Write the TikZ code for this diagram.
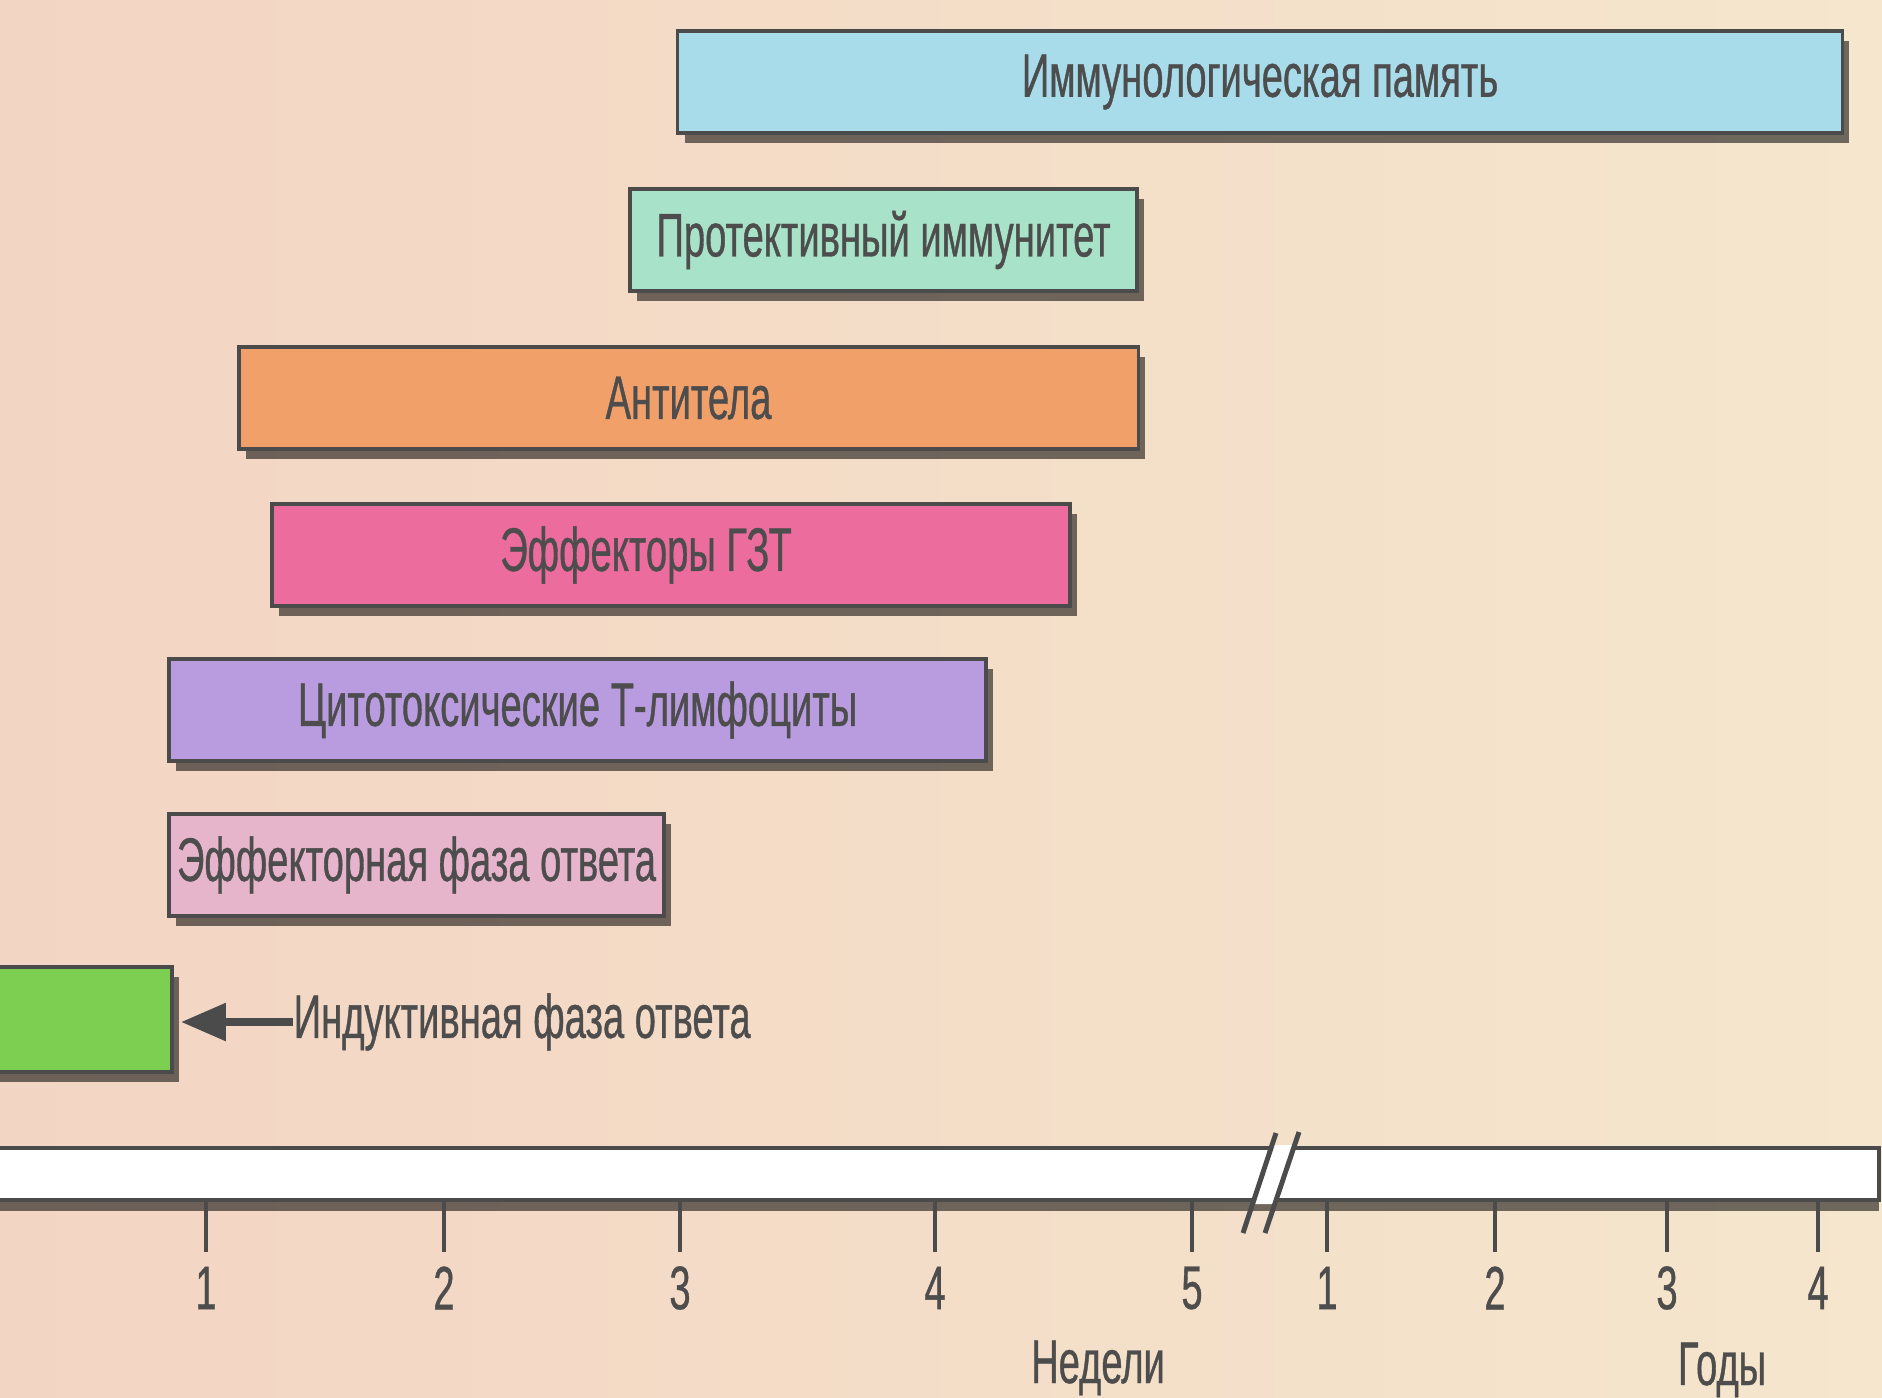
\documentclass[tikz,border=0pt]{standalone}
\usepackage{fontspec}
\setmainfont[FakeStretch=0.62,FakeBold=0.6]{Liberation Sans}
\usetikzlibrary{shadows,arrows.meta}

\definecolor{bgleft}{HTML}{F3D5C3}
\definecolor{bgright}{HTML}{F5E6CD}
\definecolor{edgegray}{HTML}{4B4B4B}
\definecolor{inkgray}{HTML}{4D4D4D}
\definecolor{memcol}{HTML}{A9DCEB}
\definecolor{protcol}{HTML}{A8E2C8}
\definecolor{abcol}{HTML}{F1A06A}
\definecolor{dthcol}{HTML}{EC6C9E}
\definecolor{ctlcol}{HTML}{B99BE0}
\definecolor{effcol}{HTML}{E7B5CB}
\definecolor{indcol}{HTML}{7DCF52}

\begin{document}
\begin{tikzpicture}[x=0.01cm,y=-0.01cm,
    every node/.style={font=\fontsize{17.5}{20}\selectfont,text=inkgray},
    phase/.style={draw=edgegray,line width=1pt,minimum height=1.02cm,inner sep=0pt,
      drop shadow={shadow xshift=2pt,shadow yshift=-2.8pt,fill=black,opacity=0.55}}]
  % background
  \shade[left color=bgleft,right color=bgright] (0,0) rectangle (1882,1397);
  \useasboundingbox (0,0) rectangle (1882,1397);
  % phases of the response
  \node[phase,fill=memcol,minimum width=11.64cm] (memory) at (1260,82) {Иммунологическая память};
  \node[phase,fill=protcol,minimum width=5.07cm] (protect) at (883.5,240) {Протективный иммунитет};
  \node[phase,fill=abcol,minimum width=8.99cm] (antibody) at (688.5,398) {Антитела};
  \node[phase,fill=dthcol,minimum width=7.98cm] (dth) at (671,555) {Эффекторы ГЗТ\hspace*{0.5cm}};
  \node[phase,fill=ctlcol,minimum width=8.17cm] (ctl) at (577.5,710) {Цитотоксические Т-лимфоциты};
  \node[phase,fill=effcol,minimum width=4.95cm] (effector) at (416.5,865) {Эффекторная фаза ответа};
  \node[phase,fill=indcol,minimum width=1.86cm,minimum height=1.05cm] (induct) at (79,1019.5) {};
  % inductive phase label
  \node[right,inner sep=0pt] (indlabel) at (293,1022) {Индуктивная фаза ответа};
  \draw[-{Triangle[length=0.45cm,width=0.36cm]},line width=2.4pt,edgegray,shorten >=0.07cm]
    (indlabel.west) -- (induct.east |- indlabel.west);
  % time axis
  \filldraw[fill=white,draw=edgegray,line width=1pt,
    drop shadow={shadow xshift=0pt,shadow yshift=-3pt,fill=black,opacity=0.55}]
    (-10,1148) rectangle (1879,1200);
  % axis break
  \fill[white] (1272,1145) -- (1295,1145) -- (1275,1204) -- (1253,1204) -- cycle;
  \draw[edgegray,line width=1.4pt] (1243,1233) -- (1276,1133) (1265,1233) -- (1299,1132);
  % ticks, weeks then years
  \foreach \x/\n in {206/1,444/2,680/3,935/4,1192/5,1327/1,1495/2,1667/3,1818/4}{
    \draw[edgegray,line width=1.3pt] (\x,1201) -- (\x,1252);
    \node (t\x) at (\x,1288) {\n};}
  \node[anchor=base] (weeks) at (1098,1383) {Недели};
  \node[anchor=base] (years) at (1722,1385) {Годы};
\end{tikzpicture}
\end{document}
